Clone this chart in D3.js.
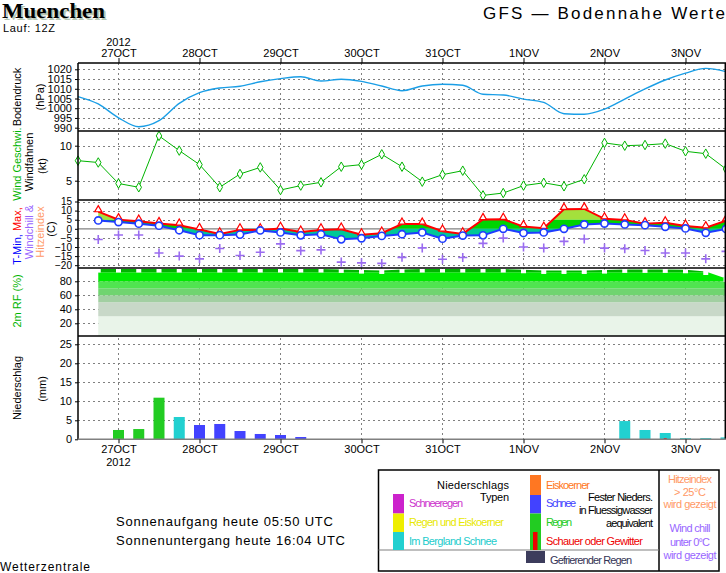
<!DOCTYPE html>
<html>
<head>
<meta charset="utf-8">
<script src="https://cdn.jsdelivr.net/npm/d3@7"></script>
<style>
  body { margin: 0; background: #fff; }
  svg text { font-family: "Liberation Sans", Arial, sans-serif; }
</style>
</head>
<body>
<div id="chart"></div>
<script>
// ---- data (6-hourly steps from 26 Oct 2012 12Z) ----
const startTime = Date.UTC(2012, 9, 26, 12);
const stepMs = 6 * 3600 * 1000;
const nSteps = 33;

const dayDates = ["2012-10-27", "2012-10-28", "2012-10-29", "2012-10-30", "2012-10-31", "2012-11-01", "2012-11-02", "2012-11-03"];
const dayLabels = ["27OCT", "28OCT", "29OCT", "30OCT", "31OCT", "1NOV", "2NOV", "3NOV"];

const pressure = [1006, 1002.2, 995.1, 990.5, 993.6, 1002.5, 1008, 1010.4, 1011.3, 1013.6, 1015.2,
  1016.2, 1014, 1014.9, 1013.8, 1011.4, 1009, 1011.4, 1012.3, 1011.8, 1007.2, 1006.8, 1004.7,
  1003, 997.2, 996.9, 999.5, 1004.7, 1009.9, 1014.5, 1018, 1020.5, 1018.8];

const wind = [7.86, 7.6, 4.6, 4.06, 11.4, 9.3, 7.3, 4.06, 5.96, 6.9, 3.67, 4.3, 4.77, 7.0, 7.3,
  8.77, 7.0, 4.86, 5.86, 6.43, 2.9, 3.24, 4.3, 4.7, 4.2, 5.2, 10.4, 10.0, 10.1, 10.3, 9.2, 8.86, 6.67];

const tMax = [null, 9.4, 5.0, 4.2, 2.9, 2.0, -0.4, -2.8, -0.6, -0.6, 0.2, -1.8, -0.6, -0.2, -3.3,
  -2.4, 2.6, 2.6, -1.3, -2.8, 5.1, 5.2, 1.2, 0.3, 10.7, 10.9, 5.5, 4.9, 2.8, 3.3, 1.5, 0.6, 4.4];

const tMin = [null, 4.6, 3.7, 2.8, 1.7, -0.8, -3.5, -3.5, -3.2, -0.9, -2.0, -3.6, -3.0, -5.8, -5.2,
  -3.9, -3.0, -2.0, -5.4, -3.7, -3.6, 0, -2.3, -2.0, 0, 2.4, 2.9, 2.4, 2.0, 1.1, 0.2, -2.2, -0.1];

const windChill = [null, -5.9, -3.4, -3.4, -13.3, -15.0, -16.5, -10.8, -14.7, -12.9, -8.3, -12.0,
  -11.6, -18.3, -18.7, -19.0, -15.7, -10.5, -16.7, -15.8, -8.0, -5.1, -10, -10.6, -6.9, -5.6,
  -10.6, -10.9, -11.9, -13.3, -13.3, -16.5, -12.4];

const humidity = [null, 97.5, 97.5, 97.5, 97.5, 97.5, 97.5, 97.5, 97.5, 97.5, 97.5, 97.5, 97.5,
  97, 96, 95.5, 97, 97.5, 97.5, 97.5, 97.5, 97.5, 96.5, 95.5, 95.5, 95.5, 96, 97, 97, 97, 96.5, 94, 84];

const precip = [0, 0, 2.45, 2.7, 10.95, 5.87, 3.76, 4.03, 2.18, 1.4, 1.13, 0.6, 0, 0, 0, 0, 0,
  0, 0, 0, 0, 0, 0, 0, 0, 0, 0, 4.8, 2.45, 1.66, 0.3, 0.3, 0.5];
const precipType = ["", "", "rain", "rain", "rain", "mtnsnow", "snow", "snow", "snow", "snow",
  "snow", "snow", "", "", "", "", "", "", "", "", "", "", "", "", "", "", "",
  "mtnsnow", "mtnsnow", "mtnsnow", "mtnsnow", "mtnsnow", "mtnsnow"];
const showers = [0, 0, 0, 0, 0, 0, 0, 0, 0, 0, 0, 0, 0, 0, 0, 0, 0, 0, 0, 0, 0, 0, 0, 0, 0, 0, 0,
  0, 0, 0.3, 0, 0, 0];

const pressTicks = [1020, 1015, 1010, 1005, 1000, 995, 990];
const windTicks = [10, 5];
const tempTicks = [15, 10, 5, 0, -5, -10, -15, -20];
const rhTicks = [80, 60, 40, 20];
const precTicks = [0, 5, 10, 15, 20, 25];

const typeColors = { rain: "#22cc22", snow: "#4242ff", mtnsnow: "#22d0d0" };

// ---- setup ----
const W = 726, H = 573;
const left = 78, right = 726;
const svg = d3.select("#chart").append("svg").attr("width", W).attr("height", H);
const defs = svg.append("defs");

const times = d3.range(nSteps).map(i => new Date(startTime + i * stepMs));
const days = dayDates.map(d => new Date(d + "T00:00:00Z"));
const idx = d3.range(nSteps);

const x = d3.scaleUtc().domain([times[0], times[nSteps - 1]]).range([left, right]);

const yP = d3.scaleLinear().domain([1020, 990]).range([69.3, 127.7]);
const yW = d3.scaleLinear().domain([10, 5]).range([145.7, 180.7]);
const yT = d3.scaleLinear().domain([15, -20]).range([201.5, 265.2]);
const yH = d3.scaleLinear().domain([100, 0]).range([267.3, 337.3]);
const yR = d3.scaleLinear().domain([0, 25]).range([439.3, 344.3]);

const panelTops = [63, 131, 200, 268, 336];

function clip(id, y0, y1) {
  defs.append("clipPath").attr("id", id).append("rect")
    .attr("x", left).attr("y", y0).attr("width", right - left).attr("height", Math.max(0, y1 - y0));
  return `url(#${id})`;
}

// ---- grid ----
const grid = svg.append("g").attr("stroke", "#808080").attr("stroke-dasharray", "2,3");
grid.selectAll(null).data(days).join("line")
  .attr("x1", d => x(d)).attr("x2", d => x(d)).attr("y1", 63).attr("y2", 439);

function hGrid(scale, ticks) {
  grid.selectAll(null).data(ticks).join("line")
    .attr("x1", left).attr("x2", right)
    .attr("y1", d => Math.round(scale(d)) + 0.5).attr("y2", d => Math.round(scale(d)) + 0.5);
}
hGrid(yP, pressTicks);
hGrid(yW, windTicks);
hGrid(yT, tempTicks.filter(d => d !== 0));
hGrid(yH, rhTicks);
hGrid(yR, precTicks.filter(d => d !== 0));

// zero line for temperature
svg.append("line").attr("x1", left).attr("x2", right)
  .attr("y1", yT(0)).attr("y2", yT(0)).attr("stroke", "#808080").attr("stroke-width", 1.2);

// ---- pressure ----
svg.append("path").datum(idx)
  .attr("fill", "none").attr("stroke", "#1a9ee6").attr("stroke-width", 1.4)
  .attr("clip-path", clip("cp-p", 63, 131))
  .attr("d", d3.line().x(i => x(times[i])).y(i => yP(pressure[i])).curve(d3.curveMonotoneX));

// ---- wind ----
svg.append("path").datum(idx)
  .attr("fill", "none").attr("stroke", "#00b400").attr("stroke-width", 1)
  .attr("d", d3.line().x(i => x(times[i])).y(i => yW(wind[i])));
svg.selectAll(".wpt").data(idx).join("path").attr("class", "wpt")
  .attr("transform", i => `translate(${x(times[i])},${yW(wind[i])})`)
  .attr("d", d3.symbol(d3.symbolDiamond, 26))
  .attr("fill", "#fff").attr("stroke", "#00b400").attr("stroke-width", 1);

// ---- temperature ----
const tIdx = idx.filter(i => tMax[i] != null);
const tArea = d3.area().x(i => x(times[i])).y0(i => yT(tMin[i])).y1(i => yT(tMax[i]));
const tBands = [
  { lo: 5, hi: 40, color: "#a4e03c" },
  { lo: 0, hi: 5, color: "#00d400" },
  { lo: -40, hi: 0, color: "#00c896" }
];
tBands.forEach((b, k) => {
  const y0 = Math.max(200, yT(b.hi)), y1 = Math.min(268, yT(b.lo));
  svg.append("path").datum(tIdx).attr("fill", b.color)
    .attr("clip-path", clip("cp-t" + k, y0, y1)).attr("d", tArea);
});
svg.append("path").datum(tIdx).attr("fill", "none").attr("stroke", "#ff0000").attr("stroke-width", 2)
  .attr("d", d3.line().x(i => x(times[i])).y(i => yT(tMax[i])));
svg.append("path").datum(tIdx).attr("fill", "none").attr("stroke", "#1e3cff").attr("stroke-width", 2)
  .attr("d", d3.line().x(i => x(times[i])).y(i => yT(tMin[i])));
svg.selectAll(".tri").data(tIdx).join("path").attr("class", "tri")
  .attr("transform", i => `translate(${x(times[i])},${yT(tMax[i]) - 2})`)
  .attr("d", d3.symbol(d3.symbolTriangle, 22))
  .attr("fill", "#fff").attr("stroke", "#ff0000").attr("stroke-width", 1.2);
svg.selectAll(".circ").data(tIdx).join("circle").attr("class", "circ")
  .attr("cx", i => x(times[i])).attr("cy", i => yT(tMin[i])).attr("r", 3.6)
  .attr("fill", "#fff").attr("stroke", "#1e3cff").attr("stroke-width", 1.6);
svg.selectAll(".wc").data(tIdx).join("path").attr("class", "wc")
  .attr("transform", i => `translate(${x(times[i])},${yT(windChill[i])})`)
  .attr("d", "M-4.5,0H4.5M0,-4.5V4.5")
  .attr("stroke", "#9a6cf0").attr("stroke-width", 1.6);

// ---- humidity ----
const hIdx = idx.filter(i => humidity[i] != null);
const hArea = d3.area().x(i => x(times[i])).y0(yH(0)).y1(i => yH(humidity[i]));
const hBands = [
  { lo: 0, hi: 30, color: "#e9f4e9" },
  { lo: 30, hi: 50, color: "#c8d8c8" },
  { lo: 50, hi: 60, color: "#a2cfa2" },
  { lo: 60, hi: 70, color: "#70d470" },
  { lo: 70, hi: 80, color: "#50e450" },
  { lo: 80, hi: 93, color: "#00ea00" },
  { lo: 93, hi: 101, color: "#00b400" }
];
hBands.forEach((b, k) => {
  const y0 = Math.max(268, yH(b.hi)), y1 = Math.min(336, yH(b.lo));
  svg.append("path").datum(hIdx).attr("fill", b.color)
    .attr("clip-path", clip("cp-h" + k, y0, y1)).attr("d", hArea);
});
svg.selectAll(".hpt").data(hIdx).join("rect").attr("class", "hpt")
  .attr("x", i => x(times[i]) - 2.5).attr("y", i => yH(humidity[i]) - 0.5)
  .attr("width", 5).attr("height", 4)
  .attr("fill", "#fff");

// ---- precipitation ----
const pIdx = idx.filter(i => precip[i] > 0);
svg.append("g").attr("clip-path", clip("cp-r", 336, 440))
  .selectAll("rect").data(pIdx).join("rect")
  .attr("x", i => x(times[i]) - 5.5).attr("width", 11)
  .attr("y", i => yR(precip[i])).attr("height", i => yR(0) - yR(precip[i]))
  .attr("fill", i => typeColors[precipType[i]]);
svg.selectAll(".shw").data(idx.filter(i => showers[i] > 0)).join("rect").attr("class", "shw")
  .attr("x", i => x(times[i]) - 1.5).attr("width", 3)
  .attr("y", i => yR(showers[i])).attr("height", i => yR(0) - yR(showers[i]))
  .attr("fill", "#ee0000");

// ---- frames and axes ----
const frame = svg.append("g").attr("stroke", "#000").attr("stroke-width", 1.5);
panelTops.forEach(t => {
  frame.append("line").attr("x1", left).attr("x2", right).attr("y1", t).attr("y2", t);
});
frame.append("line").attr("x1", left).attr("x2", left).attr("y1", 63).attr("y2", 439.3);
frame.append("line").attr("x1", 725.3).attr("x2", 725.3).attr("y1", 63).attr("y2", 439.3);
svg.append("line").attr("x1", left).attr("x2", right).attr("y1", 439.3).attr("y2", 439.3)
  .attr("stroke", "#808080").attr("stroke-width", 1.5);

const fmt = d3.format("d");
function yAxis(scale, ticks, size) {
  const g = svg.append("g").attr("transform", `translate(${left},0)`)
    .call(d3.axisLeft(scale).tickValues(ticks).tickSize(3).tickPadding(3).tickFormat(fmt));
  g.select(".domain").remove();
  g.selectAll("text").attr("font-size", size || 11).attr("fill", "#000");
}
yAxis(yP, pressTicks);
yAxis(yW, windTicks);
yAxis(yT, tempTicks, 10);
yAxis(yH, rhTicks);
yAxis(yR, precTicks);

function xAxis(axis, y) {
  const g = svg.append("g").attr("transform", `translate(0,${y})`)
    .call(axis.tickValues(days).tickFormat((d, i) => dayLabels[i]));
  g.select(".domain").remove();
  g.selectAll("text").attr("font-size", 11).attr("fill", "#000");
}
xAxis(d3.axisTop(x).tickSize(5).tickPadding(1), 63);
xAxis(d3.axisBottom(x).tickSize(4).tickPadding(2), 439.3);
svg.append("text").attr("x", x(days[0])).attr("y", 46).attr("text-anchor", "middle").attr("font-size", 11).text("2012");
svg.append("text").attr("x", x(days[0])).attr("y", 466).attr("text-anchor", "middle").attr("font-size", 11).text("2012");

// ---- rotated panel labels ----
function vLabel(cx, cy, parts) {
  const t = svg.append("text")
    .attr("transform", `translate(${cx},${cy}) rotate(-90)`)
    .attr("text-anchor", "middle").attr("dy", "0.35em").attr("font-size", 11);
  parts.forEach(p => t.append("tspan").attr("fill", p[1]).text(p[0]));
}
vLabel(17, 97, [["Bodendruck", "#000"]]);
vLabel(40, 97, [["(hPa)", "#000"]]);
vLabel(17, 164, [["Wind Geschwi.", "#00b400"]]);
vLabel(29, 162, [["Windfahnen", "#000"]]);
vLabel(42, 166, [["(kt)", "#000"]]);
vLabel(17, 236, [["T-Min, ", "#0000ff"], ["Max,", "#ff0000"]]);
vLabel(29, 232, [["Windchill &", "#9966ff"]]);
vLabel(40, 232, [["Hitzeindex", "#ff9966"]]);
vLabel(51, 229, [["(C)", "#000"]]);
vLabel(17, 301, [["2m RF (%)", "#00b400"]]);
vLabel(17, 388, [["Niederschlag", "#000"]]);
vLabel(42, 389, [["(mm)", "#000"]]);

// ---- titles ----
const titleFont = "'Liberation Serif', 'DejaVu Serif', serif";
svg.append("text").attr("x", 4).attr("y", 20).style("font-family", titleFont)
  .attr("font-weight", "bold").attr("font-size", 22)
  .attr("textLength", 103).attr("lengthAdjust", "spacingAndGlyphs")
  .attr("fill", "#b4c8b4").text("Muenchen");
svg.append("text").attr("x", 2).attr("y", 18).style("font-family", titleFont)
  .attr("font-weight", "bold").attr("font-size", 22)
  .attr("textLength", 103).attr("lengthAdjust", "spacingAndGlyphs")
  .attr("fill", "#000").text("Muenchen");
svg.append("text").attr("x", 3).attr("y", 32).attr("font-size", 11)
  .attr("textLength", 52).attr("lengthAdjust", "spacing").text("Lauf: 12Z");
svg.append("text").attr("x", 483).attr("y", 19).attr("font-size", 17)
  .attr("textLength", 242).attr("lengthAdjust", "spacing").text("GFS \u2014 Bodennahe Werte");

svg.append("text").attr("x", 116).attr("y", 526).attr("font-size", 13)
  .attr("textLength", 217).attr("lengthAdjust", "spacing").text("Sonnenaufgang heute 05:50 UTC");
svg.append("text").attr("x", 116).attr("y", 545).attr("font-size", 13)
  .attr("textLength", 229).attr("lengthAdjust", "spacing").text("Sonnenuntergang heute 16:04 UTC");
svg.append("text").attr("x", 0).attr("y", 571).attr("font-size", 12)
  .attr("textLength", 90).attr("lengthAdjust", "spacing").text("Wetterzentrale");

// ---- legend ----
const lg = svg.append("g");
lg.append("rect").attr("x", 378.5).attr("y", 470).attr("width", 340.5).attr("height", 101)
  .attr("fill", "#fff").attr("stroke", "#000").attr("stroke-width", 1.5);
lg.append("line").attr("x1", 659).attr("x2", 659).attr("y1", 470).attr("y2", 571)
  .attr("stroke", "#000").attr("stroke-width", 1.5);
lg.append("line").attr("x1", 378.5).attr("x2", 659).attr("y1", 550).attr("y2", 550)
  .attr("stroke", "#808080").attr("stroke-width", 1.2);

function lgRect(x0, y0, w, h, c) {
  lg.append("rect").attr("x", x0).attr("y", y0).attr("width", w).attr("height", h).attr("fill", c);
}
function lgText(x0, y0, s, c, len, anchor) {
  lg.append("text").attr("x", x0).attr("y", y0).attr("font-size", 11).attr("fill", c)
    .attr("text-anchor", anchor || "start")
    .attr("textLength", len).attr("lengthAdjust", "spacing").text(s);
}
lgRect(393, 494, 11, 19.5, "#cc22cc");
lgRect(393, 513.5, 11, 18.5, "#eeee00");
lgRect(393, 532, 11, 18, "#22d0d0");
lgRect(530, 475, 11, 20, "#ff7722");
lgRect(530, 495, 11, 18.5, "#4242ff");
lgRect(530, 513.5, 11, 36.5, "#22cc22");
lgRect(533, 532, 4.5, 18, "#ee0000");
lgRect(526, 551, 19, 12, "#3c3c5c");

lgText(437, 489, "Niederschlags", "#000", 72);
lgText(509, 501, "Typen", "#000", 29, "end");
lgText(409, 507, "Schneeregen", "#cc33cc", 54);
lgText(409, 526, "Regen und Eiskoerner", "#e8e800", 95);
lgText(409, 545, "Im Bergland Schnee", "#22cccc", 88);
lgText(546, 489, "Eiskoerner", "#ff7722", 44);
lgText(546, 507, "Schnee", "#4242ff", 30);
lgText(546, 526, "Regen", "#22cc22", 26);
lgText(546, 545, "Schauer oder Gewitter", "#ee0000", 97);
lgText(653, 501, "Fester Nieders.", "#000", 65, "end");
lgText(653, 514, "in Fluessigwasser", "#000", 74, "end");
lgText(653, 527, "aequivalent", "#000", 47, "end");
lgText(550, 564, "Gefrierender Regen", "#333355", 82);
lgText(690, 483, "Hitzeindex", "#ff9966", 44, "middle");
lgText(690, 496, "> 25\u00b0C", "#ff9966", 32, "middle");
lgText(690, 507.5, "wird gezeigt", "#ff9966", 53, "middle");
lgText(690, 532, "Wind chill", "#9966ff", 41, "middle");
lgText(690, 545.5, "unter 0\u00b0C", "#9966ff", 40, "middle");
lgText(690, 558.5, "wird gezeigt", "#9966ff", 53, "middle");
</script>
</body>
</html>
